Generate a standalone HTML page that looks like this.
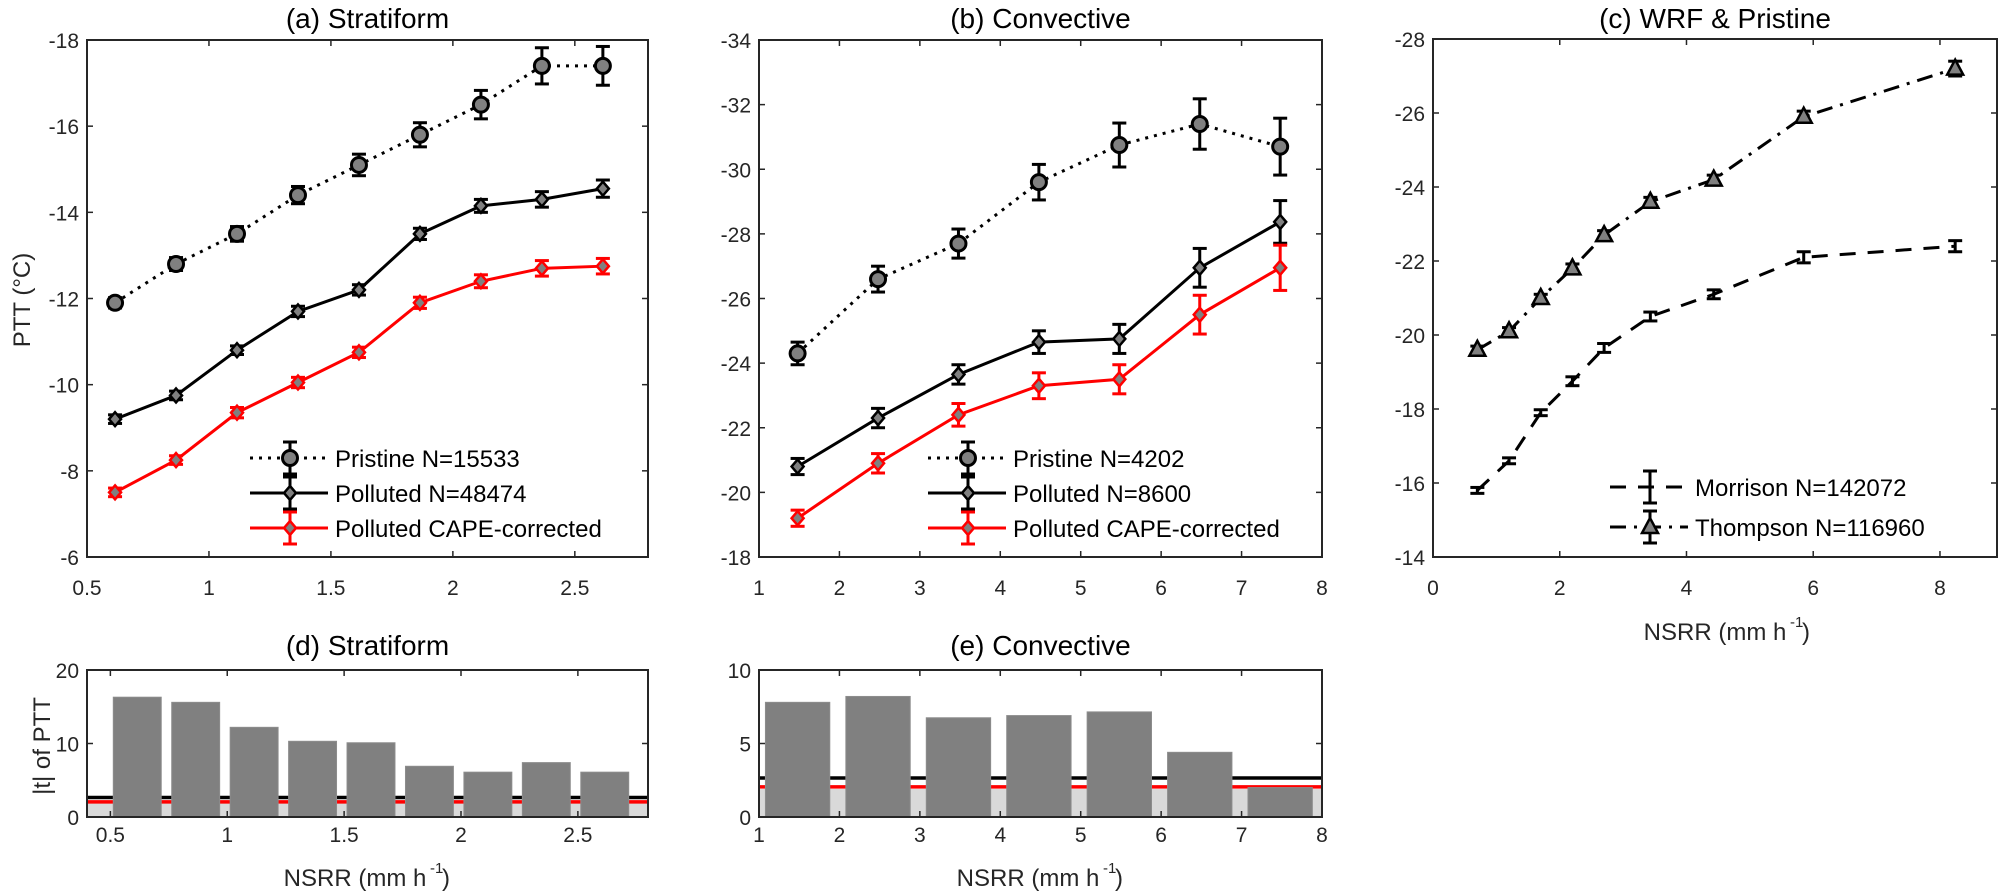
<!DOCTYPE html>
<html><head><meta charset="utf-8">
<style>
html,body{margin:0;padding:0;background:#fff;}
svg{display:block;font-family:"Liberation Sans",Arial,sans-serif;}
</style></head>
<body>
<svg id="s" width="2000" height="896" viewBox="0 0 2000 896" xmlns="http://www.w3.org/2000/svg"></svg>
<script>
const S=document.getElementById('s');
const NS='http://www.w3.org/2000/svg';
function el(t,a,txt){const e=document.createElementNS(NS,t);for(const k in a)e.setAttribute(k,a[k]);if(txt!==undefined)e.textContent=txt;S.appendChild(e);return e;}
function mk(c){
  c.sx=v=>c.L+(v-c.x0)/(c.x1-c.x0)*(c.R-c.L);
  c.sy=v=>c.T+(v-c.yt)/(c.yb-c.yt)*(c.B-c.T);
  return c;
}
function frame(c){
  el('rect',{x:c.L,y:c.T,width:c.R-c.L,height:c.B-c.T,fill:'none',stroke:'#262626','stroke-width':2});
  for(const v of c.xt){const x=c.sx(v);
    el('line',{x1:x,y1:c.B,x2:x,y2:c.B-6,stroke:'#262626','stroke-width':1.5});
    el('line',{x1:x,y1:c.T,x2:x,y2:c.T+6,stroke:'#262626','stroke-width':1.5});
    el('text',{x:x,y:c.B+c.xo,'font-size':21,fill:'#262626','text-anchor':'middle'},String(v));}
  for(const v of c.ytk){const y=c.sy(v);
    el('line',{x1:c.L,y1:y,x2:c.L+6,y2:y,stroke:'#262626','stroke-width':1.5});
    el('line',{x1:c.R,y1:y,x2:c.R-6,y2:y,stroke:'#262626','stroke-width':1.5});
    el('text',{x:c.L-8,y:y+8,'font-size':21,fill:'#262626','text-anchor':'end'},String(v));}
  el('text',{x:(c.L+c.R)/2,y:c.tY,'font-size':28,fill:'#000','text-anchor':'middle'},c.title);
}
function series(c,xs,ys,es,o){
  const pts=xs.map((x,i)=>c.sx(x)+','+c.sy(ys[i])).join(' ');
  el('polyline',{points:pts,fill:'none',stroke:o.col,'stroke-width':3,'stroke-dasharray':o.dash||'', 'stroke-linecap':o.cap||'butt'});
  xs.forEach((x,i)=>{const X=c.sx(x),Y=c.sy(ys[i]),d=Math.max(es[i]*Math.abs((c.B-c.T)/(c.yb-c.yt)),2);
    el('line',{x1:X,y1:Y-d,x2:X,y2:Y+d,stroke:o.col,'stroke-width':3});
    el('line',{x1:X-7,y1:Y-d,x2:X+7,y2:Y-d,stroke:o.col,'stroke-width':3});
    el('line',{x1:X-7,y1:Y+d,x2:X+7,y2:Y+d,stroke:o.col,'stroke-width':3});
    marker(X,Y,o);
  });
}
function marker(X,Y,o){
  if(o.m==='o')el('circle',{cx:X,cy:Y,r:7.5,fill:'#808080',stroke:o.col,'stroke-width':3});
  else if(o.m==='d')el('polygon',{points:`${X},${Y-7} ${X+6},${Y} ${X},${Y+7} ${X-6},${Y}`,fill:'#808080',stroke:o.col,'stroke-width':2.5});
  else if(o.m==='^')el('polygon',{points:`${X},${Y-9} ${X+8},${Y+6} ${X-8},${Y+6}`,fill:'#808080',stroke:'#000','stroke-width':2.5});
}
function legend(x,y,label,o){
  el('line',{x1:x,y1:y,x2:x+78,y2:y,stroke:o.col,'stroke-width':3,'stroke-dasharray':o.ldash||o.dash||''});
  const X=x+40;
  el('line',{x1:X,y1:y-16,x2:X,y2:y+16,stroke:o.col,'stroke-width':3});
  el('line',{x1:X-7,y1:y-16,x2:X+7,y2:y-16,stroke:o.col,'stroke-width':3});
  el('line',{x1:X-7,y1:y+16,x2:X+7,y2:y+16,stroke:o.col,'stroke-width':3});
  marker(X,y,o);
  el('text',{x:x+85,y:y+9,'font-size':24,fill:'#000'},label);
}
const P={col:'#000',m:'o',dash:'3 6',ldash:'3 6'};
const Q={col:'#000',m:'d'};
const R={col:'#ff0000',m:'d'};

// (a)
const a=mk({L:87,R:648,T:40,B:557,x0:0.5,x1:2.8,yt:-18,yb:-6,xt:[0.5,1,1.5,2,2.5],ytk:[-18,-16,-14,-12,-10,-8,-6],xo:38,title:'(a) Stratiform',tY:28});
frame(a);
const xa=[0,1,2,3,4,5,6,7,8].map(k=>0.615+0.25*k);
series(a,xa,[-11.9,-12.8,-13.5,-14.4,-15.1,-15.8,-16.5,-17.4,-17.4],[0.12,0.15,0.17,0.2,0.25,0.28,0.33,0.42,0.45],P);
series(a,xa,[-9.2,-9.75,-10.8,-11.7,-12.2,-13.5,-14.15,-14.3,-14.55],[0.1,0.1,0.1,0.12,0.12,0.13,0.15,0.18,0.2],Q);
series(a,xa,[-7.5,-8.25,-9.35,-10.05,-10.75,-11.9,-12.4,-12.7,-12.75],[0.1,0.1,0.12,0.12,0.12,0.13,0.15,0.18,0.18],R);
legend(250,458,'Pristine  N=15533',P);
legend(250,493,'Polluted N=48474',Q);
legend(250,528,'Polluted CAPE-corrected',R);
el('text',{transform:'translate(30,300) rotate(-90)','font-size':24,fill:'#262626','text-anchor':'middle'},'PTT (°C)');

// (b)
const b=mk({L:759,R:1322,T:40,B:557,x0:1,x1:8,yt:-34,yb:-18,xt:[1,2,3,4,5,6,7,8],ytk:[-34,-32,-30,-28,-26,-24,-22,-20,-18],xo:38,title:'(b) Convective',tY:28});
frame(b);
const xb=[0,1,2,3,4,5,6].map(k=>1.48+k);
series(b,xb,[-24.3,-26.6,-27.7,-29.6,-30.75,-31.4,-30.7],[0.35,0.4,0.45,0.55,0.68,0.78,0.88],P);
series(b,xb,[-20.8,-22.3,-23.65,-24.65,-24.75,-26.95,-28.37],[0.25,0.3,0.3,0.35,0.45,0.6,0.66],Q);
series(b,xb,[-19.2,-20.9,-22.4,-23.3,-23.5,-25.5,-26.95],[0.25,0.3,0.35,0.4,0.45,0.6,0.7],R);
legend(928,458,'Pristine  N=4202',P);
legend(928,493,'Polluted N=8600',Q);
legend(928,528,'Polluted CAPE-corrected',R);

// (c)
const c=mk({L:1433,R:1997,T:39,B:557,x0:0,x1:8.9,yt:-28,yb:-14,xt:[0,2,4,6,8],ytk:[-28,-26,-24,-22,-20,-18,-16,-14],xo:38,title:'(c) WRF & Pristine',tY:28});
frame(c);
const xc=[0.7,1.2,1.7,2.2,2.7,3.43,4.43,5.85,8.24];
const M={col:'#000',m:'',dash:'16 12',ldash:'16 12'};
const T={col:'#000',m:'^',dash:'16 8 3 8',ldash:'16 8 3 8'};
series(c,xc,[-15.8,-16.6,-17.9,-18.75,-19.65,-20.5,-21.1,-22.1,-22.4],[0.08,0.08,0.08,0.12,0.12,0.12,0.12,0.15,0.15],M);
series(c,xc,[-19.6,-20.1,-21.0,-21.8,-22.7,-23.6,-24.2,-25.9,-27.2],[0.1,0.1,0.1,0.12,0.12,0.12,0.12,0.15,0.2],T);
legend(1610,487,'Morrison N=142072',M);
legend(1610,527,'Thompson N=116960',T);
el('text',{x:1715,y:640,'font-size':24,fill:'#262626','text-anchor':'middle'},'NSRR (mm h');
el('text',{x:1790,y:627,'font-size':15,fill:'#262626'},'-1');
el('text',{x:1802,y:640,'font-size':24,fill:'#262626'},')');

// bars
function bars(c,xs,hs,w,bl,rl){
  el('rect',{x:c.L+1,y:c.sy(1.9),width:c.R-c.L-2,height:c.B-c.sy(1.9),fill:'#d9d9d9'});
  el('line',{x1:c.L,y1:c.sy(bl),x2:c.R,y2:c.sy(bl),stroke:'#000','stroke-width':3.5});
  el('line',{x1:c.L,y1:c.sy(rl),x2:c.R,y2:c.sy(rl),stroke:'#ff0000','stroke-width':3.5});
  xs.forEach((x,i)=>{const x1=c.sx(x-w/2),x2=c.sx(x+w/2);
    el('rect',{x:x1,y:c.sy(hs[i]),width:x2-x1,height:c.B-c.sy(hs[i]),fill:'#808080',stroke:'#8c8c8c','stroke-width':1});});
}
const d=mk({L:87,R:648,T:670,B:817,x0:0.4,x1:2.8,yt:20,yb:0,xt:[0.5,1,1.5,2,2.5],ytk:[0,10,20],xo:25,title:'(d) Stratiform',tY:655});
bars(d,xa,[16.3,15.6,12.2,10.3,10.1,6.9,6.1,7.4,6.1],0.205,2.65,2.05);
frame(d);
el('text',{transform:'translate(50,746) rotate(-90)','font-size':24,fill:'#262626','text-anchor':'middle'},'|t| of PTT');
el('text',{x:355,y:886,'font-size':24,fill:'#262626','text-anchor':'middle'},'NSRR (mm h');
el('text',{x:430,y:873,'font-size':15,fill:'#262626'},'-1');
el('text',{x:442,y:886,'font-size':24,fill:'#262626'},')');

const e=mk({L:759,R:1322,T:670,B:817,x0:1,x1:8,yt:10,yb:0,xt:[1,2,3,4,5,6,7,8],ytk:[0,5,10],xo:25,title:'(e) Convective',tY:655});
bars(e,xb,[7.8,8.2,6.75,6.9,7.15,4.4,2.0],0.8,2.65,2.05);
frame(e);
el('text',{x:1028,y:886,'font-size':24,fill:'#262626','text-anchor':'middle'},'NSRR (mm h');
el('text',{x:1103,y:873,'font-size':15,fill:'#262626'},'-1');
el('text',{x:1115,y:886,'font-size':24,fill:'#262626'},')');
</script>
</body></html>
